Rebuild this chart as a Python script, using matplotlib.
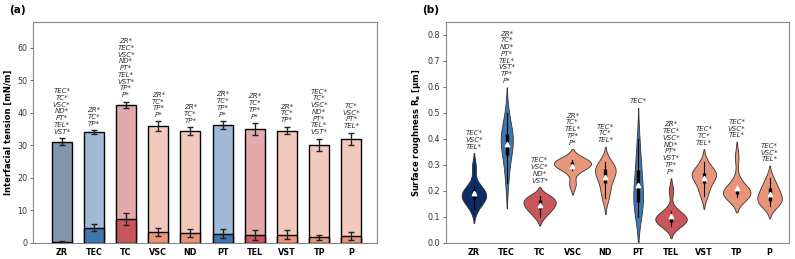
import numpy as np
import pandas as pd
import matplotlib.pyplot as plt
import seaborn as sns
from matplotlib.colors import to_rgba

groups = ['ZR', 'TEC', 'TC', 'VSC', 'ND', 'PT', 'TEL', 'VST', 'TP', 'P']
colors = ['#0b2d63', '#3f77b1', '#c8565b', '#e8957a', '#e8957a',
          '#3f77b1', '#c8565b', '#e8957a', '#e8957a', '#e8957a']

# (a) interfacial tension: total and polar part, with SD
ift_total = [31.1, 34.1, 42.4, 35.8, 34.4, 36.2, 35.0, 34.5, 30.1, 32.0]
ift_total_sd = [1.1, 0.5, 1.0, 1.5, 1.2, 1.2, 1.8, 1.2, 1.9, 1.9]
ift_polar = [0.3, 4.6, 7.3, 3.3, 3.1, 2.8, 2.3, 2.5, 1.6, 2.1]
ift_polar_sd = [0.1, 1.1, 1.8, 1.3, 1.2, 1.5, 1.5, 1.3, 0.9, 1.3]

ift_sig = [
    ['TEC', 'TC', 'VSC', 'ND', 'PT', 'TEL', 'VST'],
    ['ZR', 'TC', 'TP'],
    ['ZR', 'TEC', 'VSC', 'ND', 'PT', 'TEL', 'VST', 'TP', 'P'],
    ['ZR', 'TC', 'TP', 'P'],
    ['ZR', 'TC', 'TP'],
    ['ZR', 'TC', 'TP', 'P'],
    ['ZR', 'TC', 'TP', 'P'],
    ['ZR', 'TC', 'TP'],
    ['TEC', 'TC', 'VSC', 'ND', 'PT', 'TEL', 'VST'],
    ['TC', 'VSC', 'PT', 'TEL'],
]

# (b) surface roughness Ra measurements [um]
ra_zr = [0.13, 0.155, 0.165, 0.175, 0.18, 0.185, 0.195, 0.205, 0.22, 0.29]
ra_tec = [0.23, 0.30, 0.33, 0.36, 0.38, 0.40, 0.41, 0.42, 0.45, 0.50]
ra_tc = [0.10, 0.12, 0.13, 0.14, 0.15, 0.155, 0.165, 0.175, 0.18]
ra_vsc = [0.225, 0.28, 0.29, 0.30, 0.305, 0.31, 0.315, 0.32]
ra_nd = [0.17, 0.20, 0.23, 0.25, 0.27, 0.28, 0.285, 0.29, 0.31]
ra_pt = [0.10, 0.13, 0.15, 0.17, 0.19, 0.21, 0.25, 0.29, 0.32, 0.40]
ra_tel = [0.065, 0.075, 0.08, 0.085, 0.09, 0.095, 0.10, 0.11, 0.12, 0.20]
ra_vst = [0.18, 0.21, 0.23, 0.25, 0.26, 0.265, 0.27, 0.28, 0.31]
ra_tp = [0.175, 0.18, 0.185, 0.19, 0.19, 0.195, 0.20, 0.21, 0.24, 0.33]
ra_p = [0.14, 0.15, 0.16, 0.17, 0.18, 0.19, 0.21, 0.22, 0.25]
ra_samples = [ra_zr, ra_tec, ra_tc, ra_vsc, ra_nd, ra_pt, ra_tel, ra_vst, ra_tp, ra_p]

ra_sig = [
    ['TEC', 'VSC', 'TEL'],
    ['ZR', 'TC', 'ND', 'PT', 'TEL', 'VST', 'TP', 'P'],
    ['TEC', 'VSC', 'ND', 'VST'],
    ['ZR', 'TC', 'TEL', 'TP', 'P'],
    ['TEC', 'TC', 'TEL'],
    ['TEC'],
    ['ZR', 'TEC', 'VSC', 'ND', 'PT', 'VST', 'TP', 'P'],
    ['TEC', 'TC', 'TEL'],
    ['TEC', 'VSC', 'TEL'],
    ['TEC', 'VSC', 'TEL'],
]

fig = plt.figure(figsize=(7.95, 2.59), dpi=100)
axa = fig.add_axes([0.042, 0.063, 0.4327, 0.853])
axb = fig.add_axes([0.561, 0.063, 0.4318, 0.853])

x = np.arange(len(groups))
light = [to_rgba(c, 0.5) for c in colors]
note_kw = dict(textcoords='offset points', ha='center', va='bottom', fontsize=5.0,
               fontstyle='italic', color='#333333', linespacing=1.15)

# ---- panel (a)
axa.bar(x, ift_total, width=0.62, color=light, edgecolor='black', linewidth=1.0, zorder=2)
axa.bar(x, ift_polar, width=0.62, color=colors, edgecolor='black', linewidth=1.0, zorder=3)
axa.errorbar(x, ift_total, yerr=ift_total_sd, fmt='none', ecolor='#222222',
             elinewidth=1.0, capsize=2.5, capthick=1.0, zorder=4)
axa.errorbar(x, ift_polar, yerr=ift_polar_sd, fmt='none', ecolor='#222222',
             elinewidth=1.0, capsize=2.5, capthick=1.0, zorder=4)
for i, sig in enumerate(ift_sig):
    axa.annotate('\n'.join(s + '*' for s in sig), (x[i], ift_total[i] + ift_total_sd[i]),
                 xytext=(0, 2.5), **note_kw)
axa.set_xlim(-0.88, 9.81)
axa.set_ylim(0, 68)
axa.set_yticks(range(0, 61, 10))
axa.set_ylabel('Interfacial tension [mN/m]', fontsize=6, fontweight='bold', labelpad=3)

# ---- panel (b)
df = pd.DataFrame([(g, v) for g, vals in zip(groups, ra_samples) for v in vals],
                  columns=['group', 'ra'])
sns.violinplot(data=df, x='group', y='ra', hue='group', order=groups, hue_order=groups,
               palette=dict(zip(groups, colors)), inner=None, density_norm='area',
               common_norm=True, width=1.13, saturation=1, linewidth=0.6,
               linecolor='#333333', legend=False, ax=axb)
for i, vals in enumerate(ra_samples):
    v = np.asarray(vals)
    q1, q3 = np.percentile(v, [25, 75])
    iqr = q3 - q1
    lo = v[v >= q1 - 1.5 * iqr].min()
    hi = v[v <= q3 + 1.5 * iqr].max()
    axb.plot([i, i], [lo, hi], color='black', lw=0.8, zorder=3)
    axb.plot([i, i], [q1, q3], color='black', lw=2.4, solid_capstyle='butt', zorder=3)
    axb.plot(i, v.mean(), marker='^', color='white', markersize=3.2, zorder=4)
    bw = v.std(ddof=1) * len(v) ** (-1 / 5)
    top = v.max() + 2 * bw
    axb.annotate('\n'.join(s + '*' for s in ra_sig[i]), (i, top), xytext=(0, 2.5), **note_kw)
axb.set_xlim(-0.85, 9.6)
axb.set_ylim(0, 0.85)
axb.set_yticks(np.arange(0, 0.81, 0.1))
axb.set_xlabel('')
axb.set_ylabel('Surface roughness R$_\\mathbf{a}$ [µm]', fontsize=6, fontweight='bold', labelpad=3)

for ax in (axa, axb):
    ax.set_xticks(x)
    ax.set_xticklabels(groups, fontsize=5.8, fontweight='bold')
    ax.tick_params(axis='x', length=0, pad=4)
    ax.tick_params(axis='y', labelsize=5.8, length=2.5, width=0.6, color='#555555',
                   labelcolor='#333333', pad=2)
    for sp in ax.spines.values():
        sp.set_color('#888888')
        sp.set_linewidth(0.8)

fig.text(0.012, 0.96, '(a)', fontsize=7.5, fontweight='bold', va='center')
fig.text(0.531, 0.96, '(b)', fontsize=7.5, fontweight='bold', va='center')

fig.savefig('out.png', dpi=100)
